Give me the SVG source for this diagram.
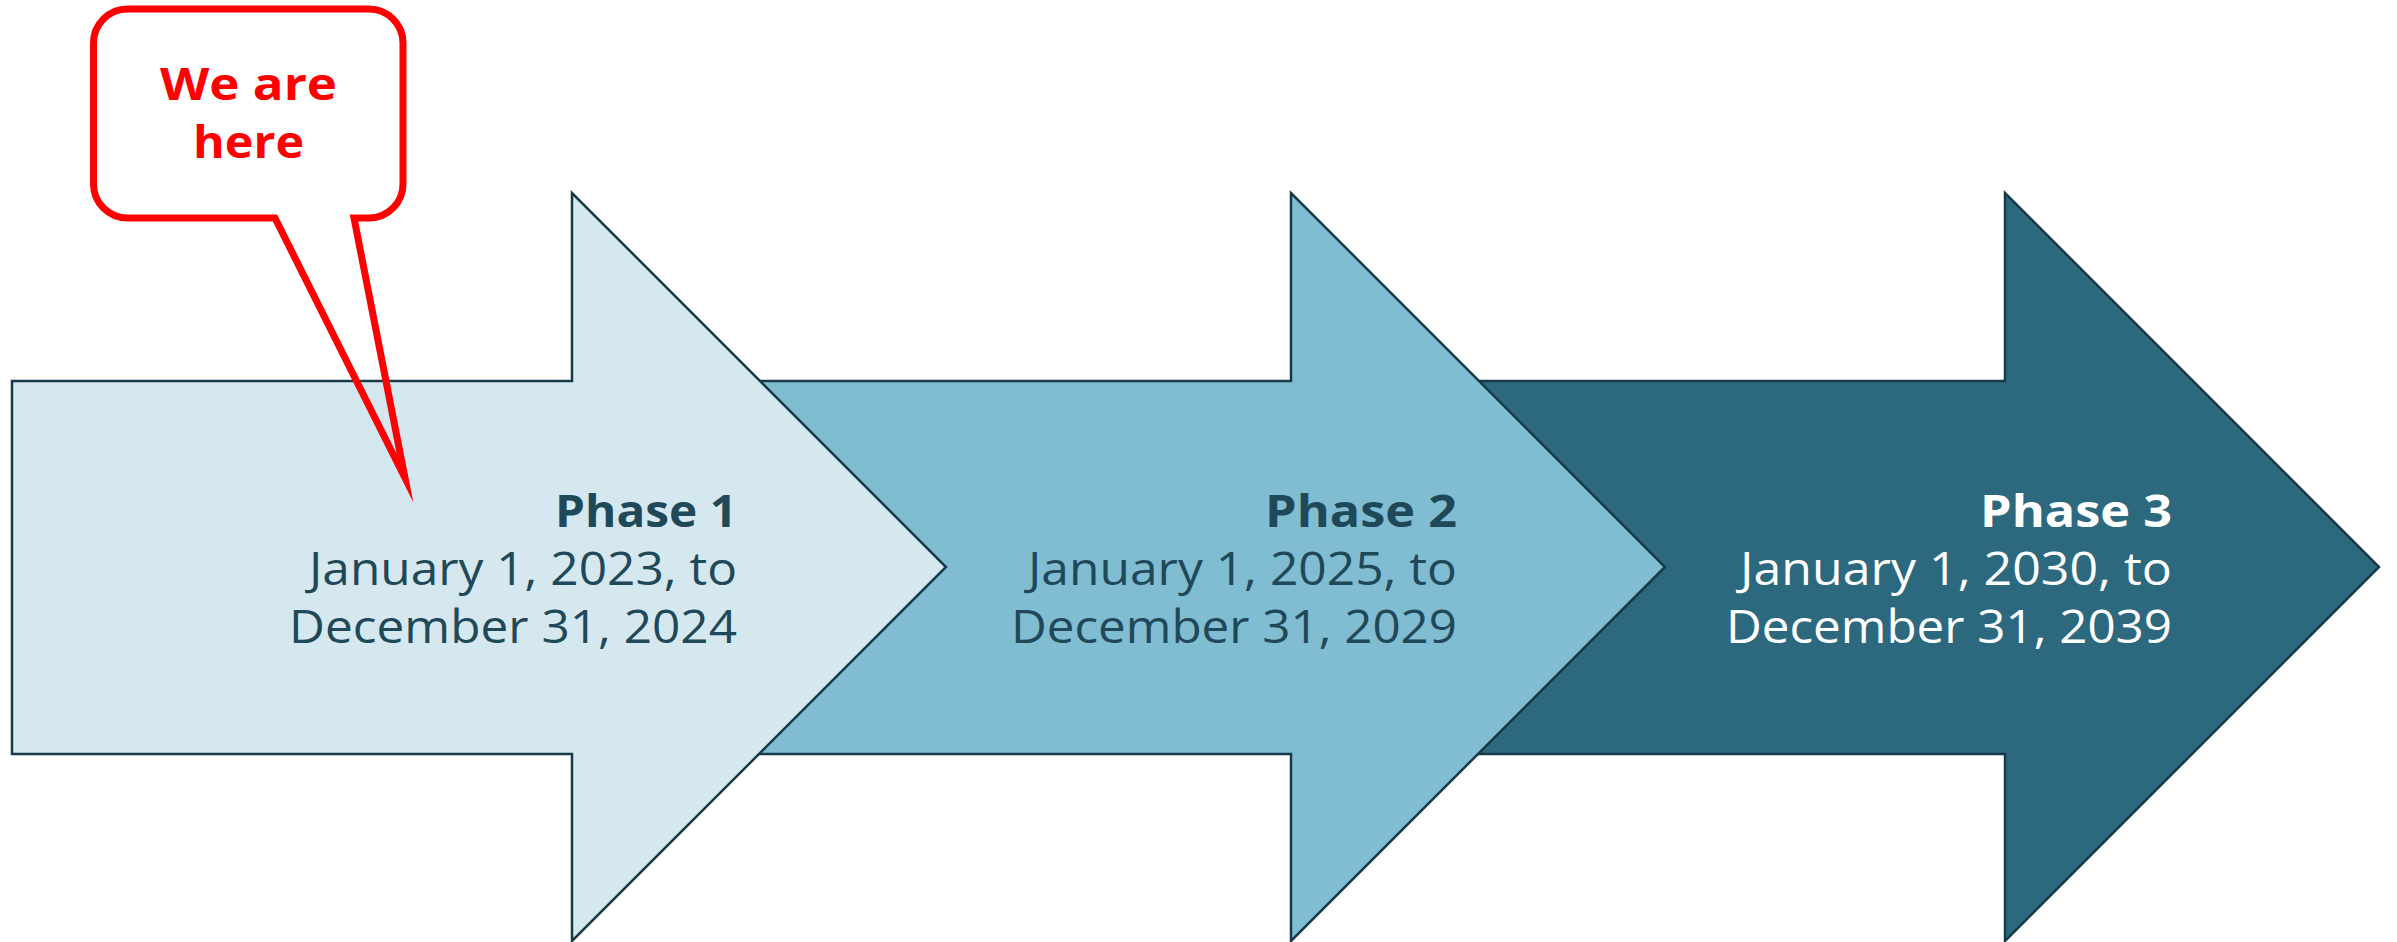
<svg xmlns="http://www.w3.org/2000/svg" width="2397" height="942" viewBox="0 0 2397 942">
<style>
.arrow{stroke:#163a48;stroke-width:2.5;stroke-linejoin:miter}
.a1{fill:#d5e8f0}
.a2{fill:#80bdd3}
.a3{fill:#2c697e}
.title{font-family:"Open Sans","Liberation Sans",sans-serif;font-weight:700;font-size:45px;text-anchor:end}
.date{font-family:"Open Sans","Liberation Sans",sans-serif;font-weight:400;font-size:45px;text-anchor:end}
.dark{fill:#1f4858}
.light{fill:#ffffff}
.callout-text{font-family:"Open Sans","Liberation Sans",sans-serif;font-weight:700;font-size:44px;text-anchor:middle;fill:#ff0000}
</style>
<rect width="2397" height="942" fill="#ffffff"/>
<g id="phase3">
<path class="arrow a3" d="M1420,381 H2005 V193 L2379,567 L2005,941 V754 H1420 Z"/>
<text class="title light" x="2172" y="527" textLength="192" lengthAdjust="spacingAndGlyphs">Phase 3</text>
<text class="date light" x="2172" y="585" textLength="432" lengthAdjust="spacingAndGlyphs">January 1, 2030, to</text>
<text class="date light" x="2172" y="643" textLength="446" lengthAdjust="spacingAndGlyphs">December 31, 2039</text>
</g>
<g id="phase2">
<path class="arrow a2" d="M700,381 H1291 V193 L1665,567 L1291,941 V754 H700 Z"/>
<text class="title dark" x="1457" y="527" textLength="192" lengthAdjust="spacingAndGlyphs">Phase 2</text>
<text class="date dark" x="1457" y="585" textLength="429" lengthAdjust="spacingAndGlyphs">January 1, 2025, to</text>
<text class="date dark" x="1457" y="643" textLength="446" lengthAdjust="spacingAndGlyphs">December 31, 2029</text>
</g>
<g id="phase1">
<path class="arrow a1" d="M12,381 H572 V193 L946,567 L572,941 V754 H12 Z"/>
<text class="title dark" x="737" y="527" textLength="182" lengthAdjust="spacingAndGlyphs">Phase 1</text>
<text class="date dark" x="737" y="585" textLength="428" lengthAdjust="spacingAndGlyphs">January 1, 2023, to</text>
<text class="date dark" x="737" y="643" textLength="448" lengthAdjust="spacingAndGlyphs">December 31, 2024</text>
</g>
<g id="callout">
<path d="M127.5,9 H369 A34,34 0 0 1 403,43 V184 A34,34 0 0 1 369,218 H354 L405,478 L275,218 H127.5 A34,34 0 0 1 93.5,184 V43 A34,34 0 0 1 127.5,9 Z" fill="none" stroke="#ff0000" stroke-width="7" stroke-miterlimit="12"/>
<text class="callout-text" x="248.5" y="100" textLength="177" lengthAdjust="spacingAndGlyphs">We are</text>
<text class="callout-text" x="248.5" y="158" textLength="111" lengthAdjust="spacingAndGlyphs">here</text>
</g>
<g id="connectors"></g>
</svg>
